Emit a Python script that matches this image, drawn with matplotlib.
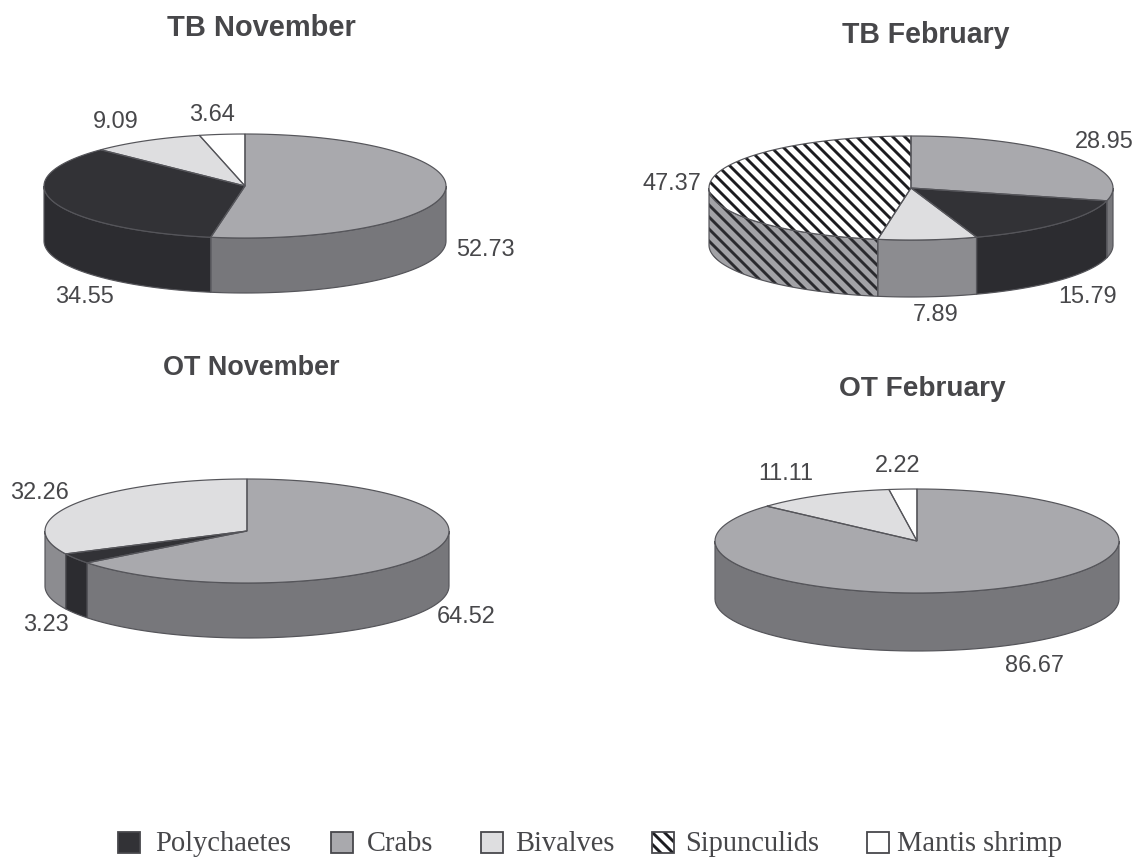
import numpy as np
import matplotlib
matplotlib.use("Agg")
import matplotlib.pyplot as plt
from matplotlib.patches import Polygon, Rectangle

# ---- data ----
species = ["Polychaetes", "Crabs", "Bivalves", "Sipunculids", "Mantis shrimp"]
tb_nov_names = ["Crabs", "Polychaetes", "Bivalves", "Mantis shrimp"]
tb_nov_vals = [52.73, 34.55, 9.09, 3.64]
tb_feb_names = ["Crabs", "Polychaetes", "Bivalves", "Sipunculids"]
tb_feb_vals = [28.95, 15.79, 7.89, 47.37]
ot_nov_names = ["Crabs", "Polychaetes", "Bivalves"]
ot_nov_vals = [64.52, 3.23, 32.26]
ot_feb_names = ["Crabs", "Bivalves", "Mantis shrimp"]
ot_feb_vals = [86.67, 11.11, 2.22]

# ---- style / layout ----
W, H = 1141, 857
plt.rcParams["font.family"] = ["Liberation Sans", "DejaVu Sans"]
plt.rcParams["hatch.linewidth"] = 2.9
INK = "#47474a"
EDGE = "#55555a"
HATCH = "\\\\"
TOP = {"Polychaetes": "#323236", "Crabs": "#a9a9ad", "Bivalves": "#dedee0",
       "Sipunculids": "#ffffff", "Mantis shrimp": "#ffffff"}
SIDE = {"Polychaetes": "#2c2c30", "Crabs": "#77777b", "Bivalves": "#8c8c90",
        "Sipunculids": "#a2a2a6", "Mantis shrimp": "#ffffff"}

fig = plt.figure(figsize=(W / 72, H / 72), dpi=72)
ax = fig.add_axes([0, 0, 1, 1])
ax.set_xlim(0, W)
ax.set_ylim(H, 0)
ax.axis("off")


def pt(cx, cy, rx, ry, deg):
    a = np.radians(deg)
    return cx + rx * np.cos(a), cy - ry * np.sin(a)


def pie3d(names, values, cx, cy, rx, ry, depth):
    fr = np.cumsum([0] + list(values)) / sum(values)
    angles = 90 - 360 * fr  # clockwise from 12 o'clock
    # visible side walls: lower half of the ellipse (180..360 deg)
    for n, a0, a1 in zip(names, angles[:-1], angles[1:]):
        for lo, hi in ((-180, 0), (-540, -360)):
            s, e = max(a1, lo), min(a0, hi)
            if e <= s:
                continue
            t = np.linspace(s, e, 60)
            x, y = pt(cx, cy, rx, ry, t)
            xy = np.r_[np.c_[x, y], np.c_[x[::-1], y[::-1] + depth]]
            hatched = n == "Sipunculids"
            ax.add_patch(Polygon(xy, closed=True, facecolor=SIDE[n],
                                 edgecolor="#2a2a2e" if hatched else "none",
                                 hatch=HATCH if hatched else None, lw=0, zorder=2))
            ax.add_patch(Polygon(xy, closed=True, facecolor="none",
                                 edgecolor=EDGE, lw=1.2, zorder=3))
    # top face
    for n, a0, a1 in zip(names, angles[:-1], angles[1:]):
        t = np.linspace(a1, a0, 120)
        x, y = pt(cx, cy, rx, ry, t)
        xy = np.r_[[[cx, cy]], np.c_[x, y]]
        hatched = n == "Sipunculids"
        ax.add_patch(Polygon(xy, closed=True, facecolor=TOP[n],
                             edgecolor="#1c1c20" if hatched else "none",
                             hatch=HATCH if hatched else None, lw=0, zorder=4))
        ax.add_patch(Polygon(xy, closed=True, facecolor="none",
                             edgecolor=EDGE, lw=1.2, zorder=5))


pie3d(tb_nov_names, tb_nov_vals, 245, 186, 201, 52, 55)
pie3d(tb_feb_names, tb_feb_vals, 911, 188, 202, 52, 57)
pie3d(ot_nov_names, ot_nov_vals, 247, 531, 202, 52, 55)
pie3d(ot_feb_names, ot_feb_vals, 917, 541, 202, 52, 58)

titles = [("TB November", 261, 28, 29), ("TB February", 926, 35, 28.5),
          ("OT November", 251, 368, 27), ("OT February", 922, 389, 28)]
for s, x, y, fs in titles:
    ax.text(x, y, s, ha="center", va="center", fontsize=fs, fontweight="bold", color=INK)

labels = [(tb_nov_vals[0], 485, 250), (tb_nov_vals[1], 84, 297), (tb_nov_vals[2], 116, 122),
          (tb_nov_vals[3], 212, 115), (tb_feb_vals[0], 1104, 142), (tb_feb_vals[1], 1088, 297),
          (tb_feb_vals[2], 936, 315), (tb_feb_vals[3], 672, 184), (ot_nov_vals[0], 466, 617),
          (ot_nov_vals[1], 46, 625), (ot_nov_vals[2], 39, 493), (ot_feb_vals[0], 1034, 666),
          (ot_feb_vals[1], 786, 474), (ot_feb_vals[2], 898, 466)]
for v, x, y in labels:
    ax.text(x, y, f"{v:.2f}", ha="center", va="center", fontsize=23.5, color=INK)

# legend
swatch_x = [118, 331, 481, 652, 867]
text_x = [155, 367, 515, 685, 897]
for n, sx, tx in zip(species, swatch_x, text_x):
    hatched = n == "Sipunculids"
    ax.add_patch(Rectangle((sx, 832), 22, 21, facecolor=TOP[n],
                           edgecolor="#1c1c20" if hatched else "none",
                           hatch=HATCH if hatched else None, lw=0, zorder=2))
    ax.add_patch(Rectangle((sx, 832), 22, 21, facecolor="none",
                           edgecolor="#47474b", lw=1.8, zorder=3))
    ax.text(tx, 844, n, ha="left", va="center", fontsize=28.5, color=INK,
            family=["Liberation Serif", "DejaVu Serif"])

fig.savefig("out.png", dpi=72, facecolor="white")
